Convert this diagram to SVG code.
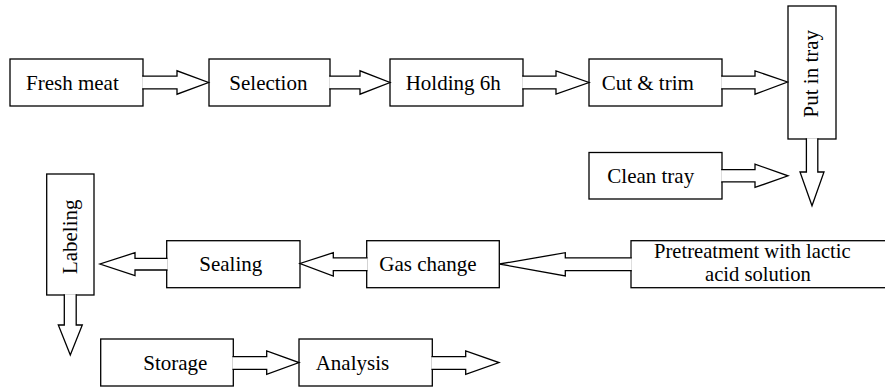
<svg xmlns="http://www.w3.org/2000/svg" width="885" height="388" viewBox="0 0 885 388">
<style>
.box{fill:#fff;stroke:#000;stroke-width:1.3}
.arr{fill:#fff;stroke:#000;stroke-width:1.3;stroke-linejoin:miter}
.t{font-family:'Liberation Serif','Times New Roman',serif;font-size:21px;fill:#000}
.s{font-size:20.6px}
</style>
<rect width="885" height="388" fill="#fff"/>
<g id="node-fresh-meat"><rect class="box" x="10" y="59" width="133" height="47"/><text class="t" x="26" y="89.5">Fresh meat</text></g>
<g id="node-selection"><rect class="box" x="209" y="59" width="121" height="47"/><text class="t" x="229.3" y="89.5">Selection</text></g>
<g id="node-holding"><rect class="box" x="390" y="59" width="133" height="47"/><text class="t" x="405.7" y="89.5">Holding 6h</text></g>
<g id="node-cut-trim"><rect class="box" x="589" y="59" width="133" height="47"/><text class="t" x="601.7" y="89.5">Cut &amp; trim</text></g>
<g id="node-put-in-tray"><rect class="box" x="788" y="6" width="48" height="133"/><text class="t" transform="translate(818,73.7) rotate(-90)" text-anchor="middle">Put in tray</text></g>
<g id="node-clean-tray"><rect class="box" x="589" y="152.5" width="133" height="46.5"/><text class="t" x="607.3" y="183.3">Clean tray</text></g>
<g id="node-pretreatment"><rect class="box" x="631" y="240.7" width="260" height="47"/><text class="t s" x="654" y="258.4">Pretreatment with lactic</text><text class="t s" x="705" y="281.4">acid solution</text></g>
<g id="node-gas-change"><rect class="box" x="366.7" y="240.7" width="132.6" height="47"/><text class="t" x="379.3" y="270.7">Gas change</text></g>
<g id="node-sealing"><rect class="box" x="166.7" y="240.7" width="133.3" height="47"/><text class="t" x="199.3" y="270.7">Sealing</text></g>
<g id="node-labeling"><rect class="box" x="46.7" y="174" width="47.3" height="121"/><text class="t" transform="translate(77,236.8) rotate(-90)" text-anchor="middle">Labeling</text></g>
<g id="node-storage"><rect class="box" x="100.7" y="339" width="132.6" height="47"/><text class="t" x="143.3" y="370.3">Storage</text></g>
<g id="node-analysis"><rect class="box" x="299" y="339" width="133.3" height="47"/><text class="t" x="315.7" y="370.3">Analysis</text></g>
<g id="connectors">
<path class="arr" d="M142.2,76.2 H177 V70.8 L208.5,82.5 L177,94.2 V88.8 H142.2"/>
<path class="arr" d="M329.2,76.2 H360 V70.8 L390,82.5 L360,94.2 V88.8 H329.2"/>
<path class="arr" d="M522.2,76.2 H556 V70.8 L589,82.5 L556,94.2 V88.8 H522.2"/>
<path class="arr" d="M721.2,76.2 H755 V70.8 L787.5,82 L755,94.2 V88.8 H721.2"/>
<path class="arr" d="M721.2,169.7 H755 V164.2 L788,175.8 L755,187.4 V181.9 H721.2"/>
<path class="arr" d="M806.4,138.2 V172 H800 L812,205.7 L824,172 H817.8 V138.2"/>
<path class="arr" d="M631.8,257.8 H565.3 V252.7 L499.5,264 L565.3,276 V270.7 H631.8"/>
<path class="arr" d="M367.5,257.8 H333.3 V252.7 L300,263.5 L333.3,276 V270.7 H367.5"/>
<path class="arr" d="M167.5,258.3 H135 V252.7 L100,264 L135,275.7 V270 H167.5"/>
<path class="arr" d="M64.3,294.2 V325 H58.3 L70.3,355 L82.3,325 H76.2 V294.2"/>
<path class="arr" d="M232.5,356.7 H266.7 V351 L299,362.6 L266.7,374.3 V369.3 H232.5"/>
<path class="arr" d="M431.5,356.7 H465.7 V351 L499,362.6 L465.7,374.3 V369.3 H431.5"/>
</g>
</svg>
